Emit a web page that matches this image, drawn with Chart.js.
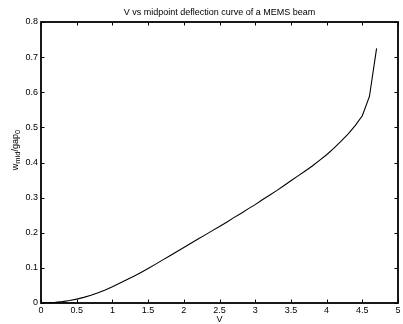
<!DOCTYPE html>
<html>
<head>
<meta charset="utf-8">
<title>V vs midpoint deflection curve of a MEMS beam</title>
<script src="https://cdn.jsdelivr.net/npm/chart.js@4.4.0/dist/chart.umd.min.js"></script>
<style>
    html, body { margin: 0; padding: 0; background: #fff; }
    #wrap { width: 403px; height: 324px; }
</style>
</head>
<body>
<div id="wrap"><canvas id="beamChart" width="403" height="324"></canvas></div>
<script>
// Tension appliquée (V) et déflexion normalisée au milieu de la poutre
const voltages = [0, 0.1, 0.2, 0.3, 0.4, 0.5, 0.6, 0.7, 0.8, 0.9,
    1.0, 1.1, 1.2, 1.3, 1.4, 1.5, 1.6, 1.7, 1.8, 1.9,
    2.0, 2.1, 2.2, 2.3, 2.4, 2.5, 2.6, 2.7, 2.8, 2.9,
    3.0, 3.1, 3.2, 3.3, 3.4, 3.5, 3.6, 3.7, 3.8, 3.9,
    4.0, 4.1, 4.2, 4.3, 4.4, 4.5, 4.6, 4.7];
const deflections = [0, 0.0005, 0.0018, 0.004, 0.007, 0.011, 0.016, 0.022, 0.029, 0.037,
    0.046, 0.056, 0.066, 0.076, 0.087, 0.098, 0.110, 0.122, 0.134, 0.146,
    0.158, 0.170, 0.182, 0.194, 0.206, 0.218, 0.230, 0.243, 0.255, 0.268,
    0.280, 0.294, 0.307, 0.320, 0.334, 0.348, 0.362, 0.376, 0.390, 0.406,
    0.422, 0.440, 0.460, 0.481, 0.505, 0.533, 0.588, 0.725];

const xTicks = [0, 0.5, 1, 1.5, 2, 2.5, 3, 3.5, 4, 4.5, 5];
const yTicks = [0, 0.1, 0.2, 0.3, 0.4, 0.5, 0.6, 0.7, 0.8];

const chartTitle = 'V vs midpoint deflection curve of a MEMS beam';
const xLabel = 'V';

const FONT = '"Liberation Sans", Arial, Helvetica, sans-serif';

// Cadre façon MATLAB : boîte complète, graduations vers l'intérieur, titres
const matlabAxes = {
    id: 'matlabAxes',
    afterDraw(chart) {
        const ctx = chart.ctx;
        const a = chart.chartArea;
        const sx = chart.scales.x;
        const sy = chart.scales.y;
        const L = a.left, R = a.right, T = a.top, B = a.bottom;
        const tick = 3.5;

        ctx.save();
        ctx.strokeStyle = '#000';
        ctx.lineWidth = 1;
        ctx.beginPath();
        xTicks.forEach(v => {
            const px = Math.round(sx.getPixelForValue(v)) + 0.5;
            ctx.moveTo(px, B); ctx.lineTo(px, B - tick);
            ctx.moveTo(px, T); ctx.lineTo(px, T + tick);
        });
        yTicks.forEach(v => {
            const py = Math.round(sy.getPixelForValue(v)) + 0.5;
            ctx.moveTo(L, py); ctx.lineTo(L + tick, py);
            ctx.moveTo(R, py); ctx.lineTo(R - tick, py);
        });
        ctx.stroke();

        ctx.lineWidth = 1.8;
        ctx.strokeRect(L, T, R - L, B - T);

        ctx.fillStyle = '#000';
        ctx.textAlign = 'center';
        ctx.textBaseline = 'middle';
        ctx.font = '9px ' + FONT;
        ctx.fillText(chartTitle, (L + R) / 2, 13);
        ctx.fillText(xLabel, (L + R) / 2, 319.5);

        // Libellé vertical avec indices : w_mid / gap_0
        const parts = [
            { t: 'w', sub: false },
            { t: 'mid', sub: true },
            { t: '/gap', sub: false },
            { t: '0', sub: true }
        ];
        const mainFont = '9px ' + FONT;
        const subFont = '7.5px ' + FONT;
        let total = 0;
        parts.forEach(p => {
            ctx.font = p.sub ? subFont : mainFont;
            p.w = ctx.measureText(p.t).width;
            total += p.w;
        });
        ctx.translate(17.5, 150);
        ctx.rotate(-Math.PI / 2);
        ctx.textAlign = 'left';
        ctx.textBaseline = 'alphabetic';
        let cx = -total / 2;
        parts.forEach(p => {
            ctx.font = p.sub ? subFont : mainFont;
            ctx.fillText(p.t, cx, p.sub ? 2.5 : 0);
            cx += p.w;
        });
        ctx.restore();
    }
};

const points = voltages.map((v, i) => ({ x: v, y: deflections[i] }));

new Chart(document.getElementById('beamChart').getContext('2d'), {
    type: 'line',
    data: {
        datasets: [{
            data: points,
            borderColor: '#000',
            borderWidth: 1.1,
            pointRadius: 0,
            tension: 0,
            fill: false
        }]
    },
    options: {
        responsive: false,
        animation: false,
        events: [],
        layout: { padding: { left: 0, right: 5, top: 22, bottom: 0 } },
        plugins: {
            legend: { display: false },
            tooltip: { enabled: false },
            title: { display: false }
        },
        scales: {
            x: {
                type: 'linear',
                min: 0,
                max: 5,
                afterBuildTicks: s => { s.ticks = xTicks.map(v => ({ value: v })); },
                afterFit: s => { s.height = 21; },
                grid: { display: false, drawTicks: false },
                border: { display: false },
                ticks: {
                    padding: 2,
                    color: '#000',
                    font: { family: FONT, size: 9 },
                    maxRotation: 0,
                    callback: v => String(v)
                }
            },
            y: {
                type: 'linear',
                min: 0,
                max: 0.8,
                afterBuildTicks: s => { s.ticks = yTicks.map(v => ({ value: v })); },
                afterFit: s => { s.width = 41; },
                grid: { display: false, drawTicks: false },
                border: { display: false },
                ticks: {
                    padding: 3,
                    color: '#000',
                    font: { family: FONT, size: 9 },
                    callback: v => String(Math.round(v * 10) / 10)
                }
            }
        }
    },
    plugins: [matlabAxes]
});
</script>
</body>
</html>
